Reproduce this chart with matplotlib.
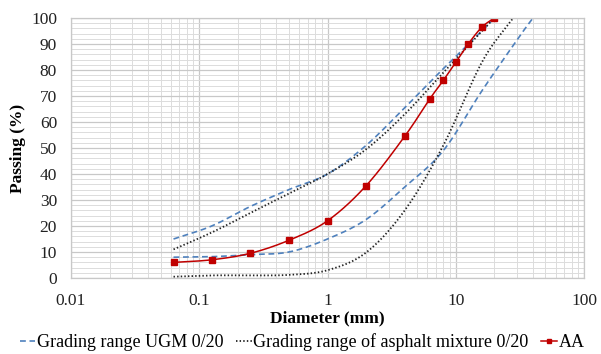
import numpy as np
import matplotlib.pyplot as plt
from matplotlib.ticker import FixedLocator, NullFormatter

# sieve sizes (mm) and passing (%)
ugm_up_x = [0.063, 0.125, 0.25, 0.5, 1, 2, 4, 8, 16, 20]
ugm_up_y = [15, 20, 27.5, 34, 40, 51, 65.5, 80.5, 95, 100]
ugm_lo_x = [0.063, 0.125, 0.25, 0.5, 1, 2, 4, 8, 16, 31.5, 40]
ugm_lo_y = [8, 8.2, 9, 10, 15, 22.5, 35, 49, 72, 93, 100]

asp_up_x = [0.063, 0.125, 0.25, 0.5, 1, 2, 4, 8, 16, 20]
asp_up_y = [11, 17.5, 25, 32.5, 40, 49.5, 63, 79, 95, 100]
asp_lo_x = [0.063, 0.125, 0.25, 0.5, 1, 2, 4, 8, 16, 28]
asp_lo_y = [0.5, 1, 1, 1.2, 3, 9.8, 26, 51, 83, 100]

aa_x = [0.063, 0.125, 0.25, 0.5, 1, 2, 4, 6.3, 8, 10, 12.5, 16, 20]
aa_y = [6, 7, 9.5, 14.5, 22, 35.5, 54.5, 69, 76, 83, 90, 96.5, 100]

BLUE = "#4F81BD"
RED = "#C00000"


def smooth(xs, ys, n=30):
    # catmull-rom through the points in log-x space (like excel's smoothed line)
    lx = np.log10(np.asarray(xs, float))
    y = np.asarray(ys, float)
    px = np.concatenate([[2 * lx[0] - lx[1]], lx, [2 * lx[-1] - lx[-2]]])
    py = np.concatenate([[2 * y[0] - y[1]], y, [2 * y[-1] - y[-2]]])
    outx, outy = [], []
    t = np.linspace(0, 1, n)
    for i in range(1, len(px) - 2):
        for arr, out in ((px, outx), (py, outy)):
            p0, p1, p2, p3 = arr[i - 1], arr[i], arr[i + 1], arr[i + 2]
            seg = 0.5 * (2 * p1 + (-p0 + p2) * t
                         + (2 * p0 - 5 * p1 + 4 * p2 - p3) * t**2
                         + (-p0 + 3 * p1 - 3 * p2 + p3) * t**3)
            out.extend(seg)
    return 10 ** np.array(outx), np.array(outy)


plt.rcParams["font.family"] = ["Liberation Serif", "DejaVu Serif"]

fig = plt.figure(figsize=(6.01, 3.54), dpi=100)
ax = fig.add_axes([71 / 601, 1 - 278 / 354, 513 / 601, 260 / 354])

dash = dict(color=BLUE, lw=1.2, dashes=(3.5, 2.2))
dot = dict(color="#222222", lw=1.3, dashes=(0.8, 1.2))

ax.plot(*smooth(ugm_up_x, ugm_up_y), **dash, label="Grading range UGM 0/20")
ax.plot(*smooth(ugm_lo_x, ugm_lo_y), **dash)
ax.plot(*smooth(asp_up_x, asp_up_y), **dot, label="Grading range of asphalt mixture 0/20")
ax.plot(*smooth(asp_lo_x, asp_lo_y), **dot)
sx, sy = smooth(aa_x, aa_y)
ax.plot(sx, sy, color=RED, lw=1.1)
ax.plot(aa_x, aa_y, ls="none", marker="s", ms=4, color=RED)
ax.plot([], [], color=RED, lw=1.1, marker="s", ms=3, label="AA")

ax.set_xscale("log")
ax.set_xlim(0.01, 100)
ax.set_ylim(0, 100)
ax.set_yticks(np.arange(0, 101, 10))
ax.yaxis.set_minor_locator(FixedLocator(np.arange(0, 101, 2)))
ax.set_xticks([0.01, 0.1, 1, 10, 100])
ax.set_xticklabels(["0.01", "0.1", "1", "10", "100"])
ax.xaxis.set_minor_formatter(NullFormatter())

ax.grid(True, which="major", color="#C8C8C8", lw=0.9)
ax.grid(True, which="minor", color="#DCDCDC", lw=0.7)
ax.set_axisbelow(True)
for s in ax.spines.values():
    s.set_color("#C8C8C8")
    s.set_linewidth(0.9)
ax.tick_params(which="both", length=0, labelsize=12.5, colors="#222222")
ax.tick_params(axis="x", pad=11)
ax.tick_params(axis="y", pad=10)

ax.set_xlabel("Diameter (mm)", fontsize=12.5, fontweight="bold", labelpad=1)
ax.set_ylabel("Passing (%)", fontsize=12.5, fontweight="bold", labelpad=4)

fig.legend(loc="center left", bbox_to_anchor=(20 / 601, 1 - 342 / 354), ncol=3,
           frameon=False, borderaxespad=0, borderpad=0, fontsize=13,
           handlelength=0.85, handletextpad=0.1, columnspacing=0.7)

fig.savefig("out.png", dpi=100)
